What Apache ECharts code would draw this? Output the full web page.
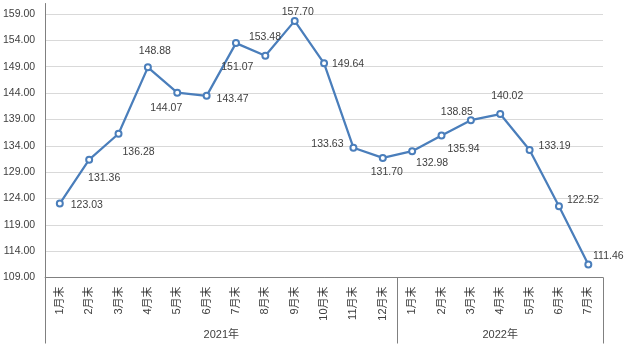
<!DOCTYPE html>
<html><head><meta charset="utf-8">
<script src="https://cdn.jsdelivr.net/npm/echarts@6/dist/echarts.min.js"></script>
<style>html,body{margin:0;padding:0;background:#fff}#c{width:627px;height:355px}</style>
</head><body><div id="c"></div>
<script>
const categories = ['1月末','2月末','3月末','4月末','5月末','6月末','7月末','8月末','9月末','10月末','11月末','12月末',
                    '1月末','2月末','3月末','4月末','5月末','6月末','7月末'];
const values = [123.03,131.36,136.28,148.88,144.07,143.47,153.48,151.07,157.70,149.64,133.63,131.70,
                132.98,135.94,138.85,140.02,133.19,122.52,111.46];
const groups = ['2021年','2022年'];
const groupSizes = [12,7];
const yTicks = [109,114,119,124,129,134,139,144,149,154,159];

// label offsets (style only)
const labelOffsets = [[27,2],[15,18],[20,18],[7,-16],[-11,15],[26,3],[29,-6],[-28,11],[3,-9],[24,1],
                      [-26,-4],[4,14],[20,12],[22,14],[-14,-8],[7,-18],[25,-4],[24,-6],[20,-8]];

const font = 'Liberation Sans, Noto Sans CJK SC, sans-serif';
const txt = '#404040';
const axisCol = '#808080';

// group boundaries and centers
const bounds = [0]; const centers = [];
groupSizes.forEach(n => { const s = bounds[bounds.length-1]; centers.push(s + n/2); bounds.push(s + n); });

const chart = echarts.init(document.getElementById('c'), null, {renderer:'canvas'});
chart.setOption({
  animation:false,
  grid:{left:45, right:24, top:3.5, bottom:77.5, containLabel:false},
  xAxis:[{
    type:'category', data:categories, boundaryGap:true,
    axisLine:{show:true, lineStyle:{color:axisCol, width:1}},
    axisTick:{show:false},
    axisLabel:{rotate:90, interval:0, margin:9, color:txt, fontSize:11, fontFamily:font},
    splitLine:{show:false}
  },{
    type:'value', min:0, max:categories.length, position:'bottom',
    axisLine:{show:false},
    axisTick:{show:true, customValues:bounds, length:66, lineStyle:{color:axisCol, width:1}},
    axisLabel:{show:true, customValues:centers, margin:52, color:txt, fontSize:11, fontFamily:font,
      formatter:(v)=>{ const i = centers.indexOf(v); return i>=0 ? groups[i] : ''; }},
    splitLine:{show:false}
  }],
  yAxis:{
    type:'value', min:109, max:161, interval:5,
    axisLine:{show:true, lineStyle:{color:axisCol, width:1}},
    axisTick:{show:false, customValues:yTicks},
    axisLabel:{customValues:yTicks, color:txt, fontSize:10.5, fontFamily:font, margin:10,
      formatter:(v)=>v.toFixed(2)},
    splitLine:{show:true, lineStyle:{color:'#d9d9d9', width:1}}
  },
  series:[{
    type:'line', xAxisIndex:0,
    data: values.map((v,i)=>({value:v, label:{offset:labelOffsets[i]}})),
    symbol:'emptyCircle', symbolSize:6,
    lineStyle:{color:'#4a7ebb', width:2.25},
    itemStyle:{color:'#4a7ebb', borderWidth:1},
    label:{show:true, position:'inside', color:txt, fontSize:10.5, fontFamily:font,
      formatter:(p)=>p.value.toFixed(2)}
  }]
});
</script></body></html>
